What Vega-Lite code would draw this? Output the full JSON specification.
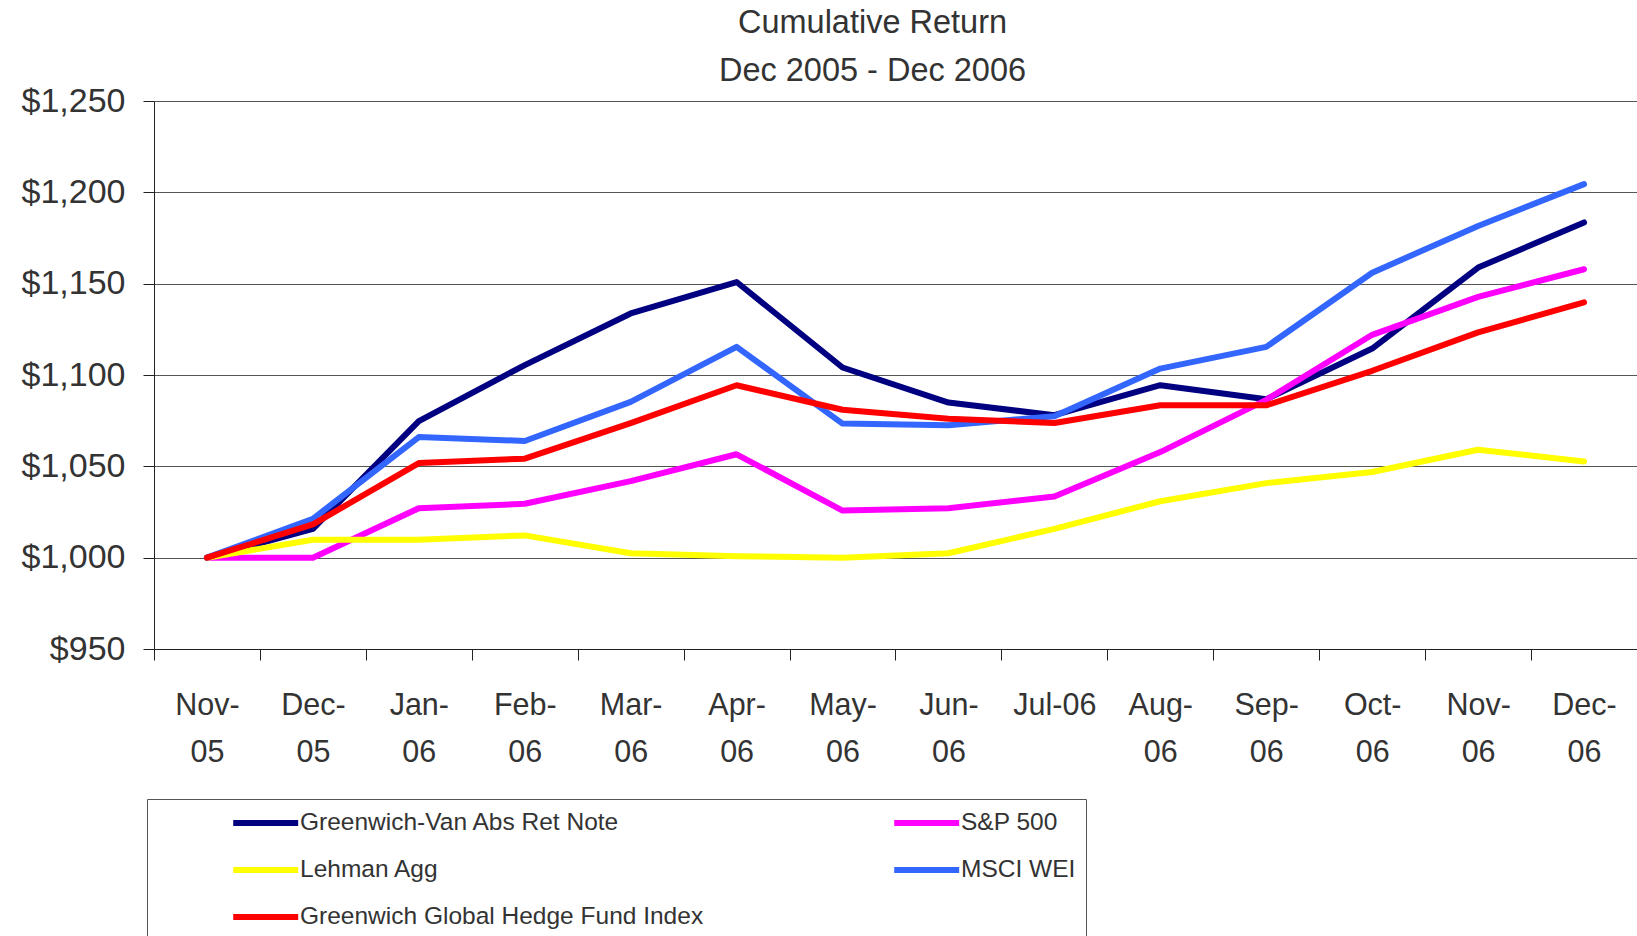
{
  "$schema": "https://vega.github.io/schema/vega-lite/v6.json",
  "width": 1483,
  "height": 548,
  "autosize": {"type": "none"},
  "padding": {"left": 154, "top": 101, "right": 0, "bottom": 287},
  "background": "white",
  "title": {
    "text": ["Cumulative Return", "Dec 2005 - Dec 2006"],
    "font": "Liberation Sans",
    "fontSize": 32.5,
    "fontWeight": "normal",
    "color": "#333333",
    "lineHeight": 48,
    "anchor": "middle",
    "dx": -23,
    "baseline": "bottom",
    "offset": -36
  },
  "data": {
    "values": [
      {"month": "Nov-05", "series": "Greenwich-Van Abs Ret Note", "value": 1000},
      {"month": "Dec-05", "series": "Greenwich-Van Abs Ret Note", "value": 1015.8},
      {"month": "Jan-06", "series": "Greenwich-Van Abs Ret Note", "value": 1074.8},
      {"month": "Feb-06", "series": "Greenwich-Van Abs Ret Note", "value": 1105.4},
      {"month": "Mar-06", "series": "Greenwich-Van Abs Ret Note", "value": 1133.7},
      {"month": "Apr-06", "series": "Greenwich-Van Abs Ret Note", "value": 1150.9},
      {"month": "May-06", "series": "Greenwich-Van Abs Ret Note", "value": 1104.1},
      {"month": "Jun-06", "series": "Greenwich-Van Abs Ret Note", "value": 1084.9},
      {"month": "Jul-06", "series": "Greenwich-Van Abs Ret Note", "value": 1078},
      {"month": "Aug-06", "series": "Greenwich-Van Abs Ret Note", "value": 1094.4},
      {"month": "Sep-06", "series": "Greenwich-Van Abs Ret Note", "value": 1086.7},
      {"month": "Oct-06", "series": "Greenwich-Van Abs Ret Note", "value": 1114.5},
      {"month": "Nov-06", "series": "Greenwich-Van Abs Ret Note", "value": 1158.8},
      {"month": "Dec-06", "series": "Greenwich-Van Abs Ret Note", "value": 1183.5},

      {"month": "Nov-05", "series": "S&P 500", "value": 1000},
      {"month": "Dec-05", "series": "S&P 500", "value": 1000},
      {"month": "Jan-06", "series": "S&P 500", "value": 1027.1},
      {"month": "Feb-06", "series": "S&P 500", "value": 1029.5},
      {"month": "Mar-06", "series": "S&P 500", "value": 1041.9},
      {"month": "Apr-06", "series": "S&P 500", "value": 1056.6},
      {"month": "May-06", "series": "S&P 500", "value": 1025.8},
      {"month": "Jun-06", "series": "S&P 500", "value": 1027.1},
      {"month": "Jul-06", "series": "S&P 500", "value": 1033.5},
      {"month": "Aug-06", "series": "S&P 500", "value": 1057.8},
      {"month": "Sep-06", "series": "S&P 500", "value": 1086.4},
      {"month": "Oct-06", "series": "S&P 500", "value": 1122},
      {"month": "Nov-06", "series": "S&P 500", "value": 1142.8},
      {"month": "Dec-06", "series": "S&P 500", "value": 1157.9},

      {"month": "Nov-05", "series": "Lehman Agg", "value": 1000},
      {"month": "Dec-05", "series": "Lehman Agg", "value": 1009.8},
      {"month": "Jan-06", "series": "Lehman Agg", "value": 1009.8},
      {"month": "Feb-06", "series": "Lehman Agg", "value": 1012.2},
      {"month": "Mar-06", "series": "Lehman Agg", "value": 1002.4},
      {"month": "Apr-06", "series": "Lehman Agg", "value": 1000.8},
      {"month": "May-06", "series": "Lehman Agg", "value": 1000},
      {"month": "Jun-06", "series": "Lehman Agg", "value": 1002.4},
      {"month": "Jul-06", "series": "Lehman Agg", "value": 1015.8},
      {"month": "Aug-06", "series": "Lehman Agg", "value": 1030.9},
      {"month": "Sep-06", "series": "Lehman Agg", "value": 1040.8},
      {"month": "Oct-06", "series": "Lehman Agg", "value": 1046.9},
      {"month": "Nov-06", "series": "Lehman Agg", "value": 1059.1},
      {"month": "Dec-06", "series": "Lehman Agg", "value": 1052.7},

      {"month": "Nov-05", "series": "MSCI WEI", "value": 1000},
      {"month": "Dec-05", "series": "MSCI WEI", "value": 1021.3},
      {"month": "Jan-06", "series": "MSCI WEI", "value": 1066},
      {"month": "Feb-06", "series": "MSCI WEI", "value": 1063.9},
      {"month": "Mar-06", "series": "MSCI WEI", "value": 1085.3},
      {"month": "Apr-06", "series": "MSCI WEI", "value": 1115.4},
      {"month": "May-06", "series": "MSCI WEI", "value": 1073.4},
      {"month": "Jun-06", "series": "MSCI WEI", "value": 1072.5},
      {"month": "Jul-06", "series": "MSCI WEI", "value": 1077.4},
      {"month": "Aug-06", "series": "MSCI WEI", "value": 1103.5},
      {"month": "Sep-06", "series": "MSCI WEI", "value": 1115.4},
      {"month": "Oct-06", "series": "MSCI WEI", "value": 1156},
      {"month": "Nov-06", "series": "MSCI WEI", "value": 1181.6},
      {"month": "Dec-06", "series": "MSCI WEI", "value": 1204.5},

      {"month": "Nov-05", "series": "Greenwich Global Hedge Fund Index", "value": 1000},
      {"month": "Dec-05", "series": "Greenwich Global Hedge Fund Index", "value": 1018.2},
      {"month": "Jan-06", "series": "Greenwich Global Hedge Fund Index", "value": 1051.8},
      {"month": "Feb-06", "series": "Greenwich Global Hedge Fund Index", "value": 1054.2},
      {"month": "Mar-06", "series": "Greenwich Global Hedge Fund Index", "value": 1073.7},
      {"month": "Apr-06", "series": "Greenwich Global Hedge Fund Index", "value": 1094.4},
      {"month": "May-06", "series": "Greenwich Global Hedge Fund Index", "value": 1081},
      {"month": "Jun-06", "series": "Greenwich Global Hedge Fund Index", "value": 1076.1},
      {"month": "Jul-06", "series": "Greenwich Global Hedge Fund Index", "value": 1073.7},
      {"month": "Aug-06", "series": "Greenwich Global Hedge Fund Index", "value": 1083.4},
      {"month": "Sep-06", "series": "Greenwich Global Hedge Fund Index", "value": 1083.4},
      {"month": "Oct-06", "series": "Greenwich Global Hedge Fund Index", "value": 1102.3},
      {"month": "Nov-06", "series": "Greenwich Global Hedge Fund Index", "value": 1123.3},
      {"month": "Dec-06", "series": "Greenwich Global Hedge Fund Index", "value": 1139.8}
    ]
  },
  "mark": {"type": "line", "strokeWidth": 6, "strokeCap": "round", "strokeJoin": "round"},
  "encoding": {
    "x": {
      "field": "month",
      "type": "ordinal",
      "scale": {
        "domain": ["Nov-05", "Dec-05", "Jan-06", "Feb-06", "Mar-06", "Apr-06", "May-06", "Jun-06", "Jul-06", "Aug-06", "Sep-06", "Oct-06", "Nov-06", "Dec-06"],
        "padding": 0.5
      },
      "axis": {
        "title": null,
        "labelExpr": "datum.value == 'Jul-06' ? datum.value : [slice(datum.value, 0, 4), slice(datum.value, 4)]",
        "labelFont": "Liberation Sans",
        "labelFontSize": 30.5,
        "labelLineHeight": 47,
        "labelColor": "#333333",
        "labelPadding": 30,
        "labelAngle": 0,
        "labelOverlap": false,
        "labelBaseline": "top",
        "tickOffset": -53,
        "labelOffset": 53,
        "tickSize": 11,
        "tickColor": "#222222",
        "domainColor": "#222222",
        "grid": false
      }
    },
    "y": {
      "field": "value",
      "type": "quantitative",
      "scale": {"domain": [950, 1250], "zero": false, "nice": false},
      "axis": {
        "title": null,
        "values": [950, 1000, 1050, 1100, 1150, 1200, 1250],
        "format": "$,.0f",
        "labelFont": "Liberation Sans",
        "labelFontSize": 34,
        "labelColor": "#333333",
        "labelPadding": 18,
        "labelOverlap": false,
        "tickSize": 11,
        "tickColor": "#222222",
        "domainColor": "#222222",
        "grid": true,
        "gridColor": "#555555",
        "gridWidth": 1
      }
    },
    "color": {
      "field": "series",
      "type": "nominal",
      "scale": {
        "domain": ["Greenwich-Van Abs Ret Note", "Lehman Agg", "Greenwich Global Hedge Fund Index", "S&P 500", "MSCI WEI"],
        "range": ["#000080", "#FFFF00", "#FF0000", "#FF00FF", "#3366FF"]
      },
      "legend": {
        "title": " ",
        "titleOrient": "left",
        "titleFontSize": 1,
        "titlePadding": 73,
        "orient": "none",
        "legendX": -7,
        "legendY": 698,
        "columns": 2,
        "gridAlign": "all",
        "columnPadding": 178,
        "rowPadding": 21,
        "padding": 10,
        "strokeColor": "#555555",
        "fillColor": "white",
        "symbolType": "M-3,0L3,0",
        "symbolSize": 469,
        "symbolOffset": 21.7,
        "symbolStrokeWidth": 6,
        "labelFont": "Liberation Sans",
        "labelFontSize": 24.5,
        "labelColor": "#333333",
        "labelLimit": 1000,
        "labelOffset": 20.3
      }
    }
  },
  "config": {"view": {"stroke": null}, "font": "Liberation Sans"}
}
